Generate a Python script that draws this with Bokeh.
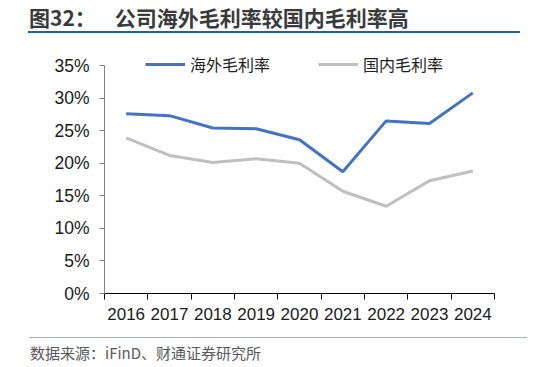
from bokeh.plotting import figure
from bokeh.models import (ColumnDataSource, FixedTicker, PrintfTickFormatter,
                          Legend, LegendItem, Div, Range1d)
from bokeh.layouts import column
from bokeh.embed import file_html
from bokeh.resources import INLINE

years = ["2016", "2017", "2018", "2019", "2020", "2021", "2022", "2023", "2024"]
overseas = [27.6, 27.3, 25.4, 25.3, 23.6, 18.7, 26.5, 26.1, 30.8]
domestic = [23.9, 21.2, 20.1, 20.7, 20.0, 15.7, 13.4, 17.3, 18.8]
y_ticks = [0, 5, 10, 15, 20, 25, 30, 35]
title_text = "图32："
title_main = "公司海外毛利率较国内毛利率高"
source_text = "数据来源：iFinD、财通证券研究所"
series_names = ["海外毛利率", "国内毛利率"]

xs = list(range(len(years)))
src = ColumnDataSource(dict(x=xs, overseas=overseas, domestic=domestic))

W = 533
title_div = Div(
    text=(f'<div style="width:{W}px;height:36px;overflow:hidden;">'
          f'<div style="padding:5px 0 0 29px;height:26px;box-sizing:border-box;'
          f'font-family:\'Noto Sans CJK SC\';font-size:21px;font-weight:bold;color:#3a3a3a;'
          f'line-height:24px;white-space:nowrap;">'
          f'{title_text}<span style="display:inline-block;width:19px"></span>{title_main}</div>'
          f'<div style="margin:5px 0 0 28px;width:492px;height:0;border-top:2px solid #1f5fae;"></div>'
          f'</div>'),
    width=W, height=36, margin=(0, 0, 0, 0))

p = figure(width=W, height=294, output_backend="svg", toolbar_location=None,
           x_range=Range1d(-0.5, len(years) - 0.5), y_range=Range1d(0, 37),
           min_border_left=104, min_border_right=39, min_border_top=16,
           min_border_bottom=37, outline_line_color=None)
p.grid.visible = False

l1 = p.line("x", "overseas", source=src, line_color="#4472c4", line_width=3)
l2 = p.line("x", "domestic", source=src, line_color="#bfbfbf", line_width=3)

# x axis
p.xaxis.ticker = FixedTicker(ticks=xs, minor_ticks=[i - 0.5 for i in range(len(years) + 1)])
p.xaxis.major_label_overrides = {i: y for i, y in enumerate(years)}
p.xaxis.major_tick_line_color = None
p.xaxis.minor_tick_in = 0
p.xaxis.minor_tick_out = 6
p.xaxis.minor_tick_line_color = "#000000"
p.xaxis.axis_line_color = "#000000"
p.xaxis.major_label_text_font = "Liberation Sans"
p.xaxis.major_label_text_font_size = "17px"
p.xaxis.major_label_text_color = "#1a1a1a"
p.xaxis.major_label_standoff = 8

# y axis
p.yaxis.ticker = FixedTicker(ticks=y_ticks)
p.yaxis.bounds = (0, 35)
p.yaxis.formatter = PrintfTickFormatter(format="%d%%")
p.yaxis.minor_tick_line_color = None
p.yaxis.major_tick_in = 0
p.yaxis.major_tick_out = 5
p.yaxis.major_tick_line_color = "#808080"
p.yaxis.axis_line_color = "#808080"
p.yaxis.major_label_text_font = "Liberation Sans"
p.yaxis.major_label_text_font_size = "17.5px"
p.yaxis.major_label_text_color = "#1a1a1a"
p.yaxis.major_label_standoff = 10

legend = Legend(items=[LegendItem(label=series_names[0], renderers=[l1]),
                       LegendItem(label=series_names[1], renderers=[l2])],
                orientation="horizontal", location=(41, 217),
                border_line_color=None, background_fill_alpha=0,
                padding=0, margin=0, spacing=48, label_standoff=5,
                glyph_width=40, glyph_height=20,
                label_text_font="Noto Sans CJK SC", label_text_font_size="16px",
                label_text_color="#222222")
p.add_layout(legend)

source_div = Div(
    text=(f'<div style="width:{W}px;height:37px;overflow:hidden;">'
          f'<div style="margin:7px 0 0 29px;width:498px;height:0;border-top:1px solid #9db7dc;"></div>'
          f'<div style="margin:6px 0 0 30px;font-family:\'Noto Sans CJK SC\';'
          f'font-size:15px;color:#595959;line-height:18px;white-space:nowrap;">{source_text}</div>'
          f'</div>'),
    width=W, height=37, margin=(0, 0, 0, 0))

layout = column(title_div, p, source_div, spacing=0)
open("out.html", "w").write(file_html(layout, INLINE))
